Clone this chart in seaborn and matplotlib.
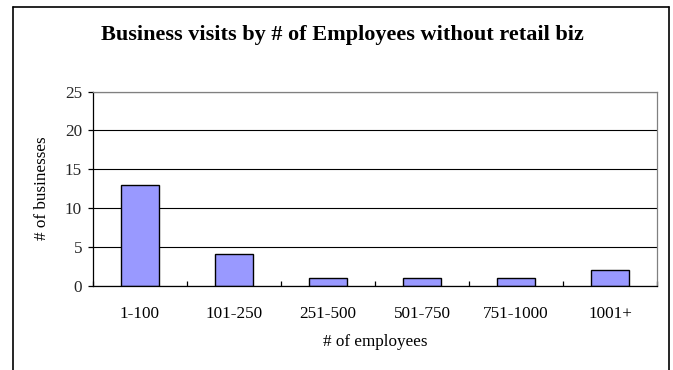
import matplotlib
matplotlib.use("Agg")
import matplotlib.pyplot as plt
from matplotlib.lines import Line2D
from matplotlib.ticker import FixedLocator
import pandas as pd
import seaborn as sns

# Business visits per employee-size band (retail excluded)
categories = ["1-100", "101-250", "251-500", "501-750", "751-1000", "1001+"]
visits = [13, 4, 1, 1, 1, 2]
y_ticks = [0, 5, 10, 15, 20, 25]

title = "Business visits by # of Employees without retail biz"
x_label = "# of employees"
y_label = "# of businesses"

df = pd.DataFrame({"band": categories, "count": visits})

sns.set_theme(style="white")
plt.rcParams["font.family"] = ["Liberation Serif", "DejaVu Serif"]

fig = plt.figure(figsize=(6.73, 3.70), dpi=100)
fig.patch.set_facecolor("white")
ax = fig.add_axes([93 / 673, 1 - 285.5 / 370, 564 / 673, 194 / 370])

sns.barplot(data=df, x="band", y="count", order=categories, color="#9999FF",
            saturation=1, width=0.4, edgecolor="black", linewidth=1.0, ax=ax)

ax.set_xlim(-0.5, len(categories) - 0.5)
ax.set_ylim(y_ticks[0], y_ticks[-1])
ax.set_yticks(y_ticks)

# horizontal gridlines behind the bars
ax.set_axisbelow(True)
ax.yaxis.grid(True, color="black", linewidth=0.8)
ax.xaxis.grid(False)

# spines: black axes, gray plot-area frame
for side in ("left", "bottom"):
    ax.spines[side].set_color("black")
    ax.spines[side].set_linewidth(0.9)
for side in ("top", "right"):
    ax.spines[side].set_color("#808080")
    ax.spines[side].set_linewidth(0.9)
    ax.spines[side].set_visible(True)

# category labels without marks; short inward marks between categories
ax.tick_params(axis="x", which="major", length=0, pad=14.5, labelsize=12.3,
               colors="black")
ax.xaxis.set_minor_locator(FixedLocator([i - 0.5 for i in range(len(categories) + 1)]))
ax.tick_params(axis="x", which="minor", direction="in", length=3.8,
               width=0.9, color="black", bottom=True)
ax.tick_params(axis="y", which="major", direction="out", length=3.8, width=0.9,
               color="black", pad=4, labelsize=12.3, left=True)

ax.set_xlabel(x_label, fontsize=12.3, labelpad=9, color="black")
ax.set_ylabel(y_label, fontsize=12.3, labelpad=11, color="black")

fig.text(342 / 673, 1 - 35 / 370, title, ha="center", va="center",
         fontsize=16, fontweight="bold", color="black")

# chart-area frame (open at the bottom edge of the image)
x0, x1 = 12.7 / 673, 669 / 673
y_top = 1 - 6.7 / 370
for xs, ys in (([x0, x0], [0, y_top]), ([x0, x1], [y_top, y_top]), ([x1, x1], [y_top, 0])):
    fig.add_artist(Line2D(xs, ys, transform=fig.transFigure, color="black",
                          linewidth=1.2))

fig.savefig("out.png", dpi=100, facecolor="white")
